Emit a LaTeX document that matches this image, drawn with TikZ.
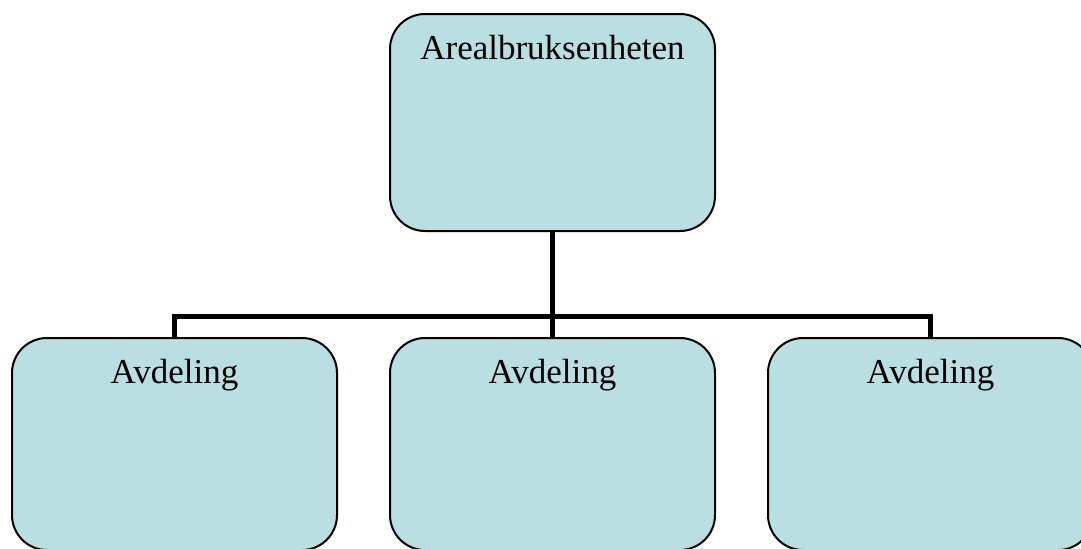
\documentclass[tikz,border=0pt]{standalone}
\usepackage{fontspec}
\setmainfont{Liberation Serif}
\definecolor{boxblue}{RGB}{186,223,227}
\tikzset{
  unitbox/.style={draw=black, line width=1pt, fill=boxblue, rounded corners=17.5pt,
    inner sep=0pt, minimum width=162.5pt, text height=22.5pt, text depth=86pt,
    font=\fontsize{17.5pt}{20pt}\selectfont},
  deptbox/.style={unitbox, text depth=83.5pt},
  bar/.style={line width=2.5pt, black}
}
\begin{document}
\begin{tikzpicture}[x=0.5pt, y=-0.5pt]
				  \useasboundingbox (0,0) rectangle (1081,548);
				  \node[unitbox, anchor=north] (unit) at (552.5,13) {Arealbruksenheten};
				  \node[deptbox, anchor=north] (dl) at (174.5,337) {Avdeling};
				  \node[deptbox, anchor=north] (dm) at (552.5,337) {Avdeling};
				  \node[deptbox, anchor=north] (dr) at (930.5,337) {Avdeling};
				  \coordinate (bus) at (552.5,316);
				  \foreach \d in {dl,dm,dr}
				    \draw[bar] (unit.south) |- (bus -| \d.north) -- (\d.north);
				\end{tikzpicture}
\end{document}
